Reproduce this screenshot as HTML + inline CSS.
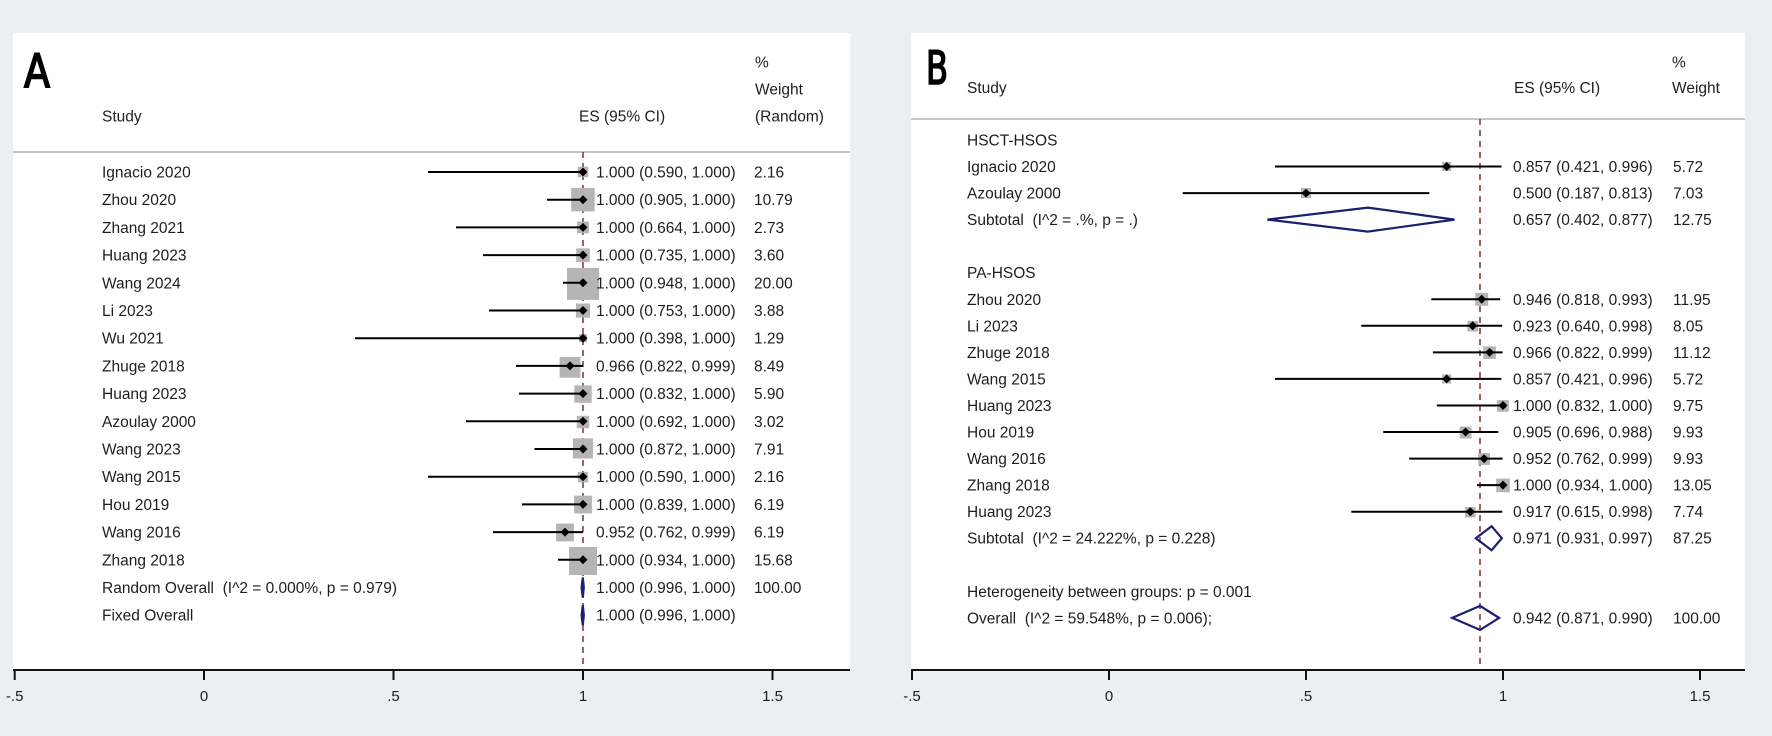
<!DOCTYPE html>
<html>
<head>
<meta charset="utf-8">
<style>
  html,body{margin:0;padding:0;background:#e9eff2;}
  svg{display:block;}
  text{font-family:"Liberation Sans",Arial,sans-serif;font-size:15.5px;fill:#1e1e1e;white-space:pre;}
  .big{font-family:"DejaVu Sans Condensed","Liberation Sans Narrow","Liberation Sans",sans-serif;font-weight:normal;font-size:46px;fill:#000;stroke:#000;stroke-width:1.6px;}
  .ax{font-size:15px;}
</style>
</head>
<body>
<svg width="1772" height="736" viewBox="0 0 1772 736" xmlns="http://www.w3.org/2000/svg">
  <rect x="0" y="0" width="1772" height="736" fill="#e9eff2"/>

  <!-- ================= PANEL A ================= -->
  <rect x="13" y="33" width="837" height="637" fill="#ffffff"/>
  <line x1="13" y1="152" x2="850" y2="152" stroke="#b4b4b4" stroke-width="1.5"/>
  <text class="big" x="24" y="87" textLength="26" lengthAdjust="spacingAndGlyphs">A</text>

  <text x="102" y="121.5">Study</text>
  <text x="579" y="121.5">ES (95% CI)</text>
  <text x="755" y="67.5">%</text>
  <text x="755" y="94.5">Weight</text>
  <text x="755" y="121.5">(Random)</text>

  <!-- dashed reference line -->
  <line x1="583" y1="152" x2="583" y2="670" stroke="#8a2b2b" stroke-width="1.5" stroke-dasharray="6,5"/>

  <!-- squares A -->
  <g fill="#b5b5b5">
    <rect x="577.7" y="166.7" width="10.5" height="10.5"/>
    <rect x="571.2" y="187.9" width="23.5" height="23.5"/>
    <rect x="577.1" y="221.5" width="11.8" height="11.8"/>
    <rect x="576.2" y="248.4" width="13.6" height="13.6"/>
    <rect x="567" y="267.9" width="32" height="32"/>
    <rect x="575.9" y="303.5" width="14.1" height="14.1"/>
    <rect x="578.9" y="334.1" width="8.1" height="8.1"/>
    <rect x="559.6" y="356.9" width="20.8" height="20.8"/>
    <rect x="574.3" y="385.4" width="17.4" height="17.4"/>
    <rect x="576.8" y="415.8" width="12.4" height="12.4"/>
    <rect x="572.9" y="438.4" width="20.1" height="20.1"/>
    <rect x="577.7" y="471.8" width="10.5" height="10.5"/>
    <rect x="574.1" y="495.6" width="17.8" height="17.8"/>
    <rect x="556.1" y="523.6" width="17.8" height="17.8"/>
    <rect x="569" y="547" width="28" height="28"/>
  </g>
  <!-- CI lines A -->
  <g stroke="#000" stroke-width="2">
    <line x1="428" y1="172" x2="583" y2="172"/>
    <line x1="547" y1="199.7" x2="583" y2="199.7"/>
    <line x1="456" y1="227.4" x2="583" y2="227.4"/>
    <line x1="483" y1="255.1" x2="583" y2="255.1"/>
    <line x1="563" y1="282.8" x2="583" y2="282.8"/>
    <line x1="489" y1="310.5" x2="583" y2="310.5"/>
    <line x1="355" y1="338.2" x2="583" y2="338.2"/>
    <line x1="516" y1="365.9" x2="583" y2="365.9"/>
    <line x1="519" y1="393.6" x2="583" y2="393.6"/>
    <line x1="466" y1="421.3" x2="583" y2="421.3"/>
    <line x1="534.5" y1="449" x2="583" y2="449"/>
    <line x1="428" y1="476.7" x2="583" y2="476.7"/>
    <line x1="522" y1="504.4" x2="583" y2="504.4"/>
    <line x1="493" y1="532.1" x2="583" y2="532.1"/>
    <line x1="558" y1="559.8" x2="583" y2="559.8"/>
  </g>
  <!-- diamonds A -->
  <g fill="#000">
    <polygon points="578.5,172 583,167.5 587.5,172 583,176.5"/>
    <polygon points="578.5,199.7 583,195.2 587.5,199.7 583,204.2"/>
    <polygon points="578.5,227.4 583,222.9 587.5,227.4 583,231.9"/>
    <polygon points="578.5,255.1 583,250.6 587.5,255.1 583,259.6"/>
    <polygon points="578.5,282.8 583,278.3 587.5,282.8 583,287.3"/>
    <polygon points="578.5,310.5 583,306 587.5,310.5 583,315"/>
    <polygon points="578.5,338.2 583,333.7 587.5,338.2 583,342.7"/>
    <polygon points="565.5,365.9 570,361.4 574.5,365.9 570,370.4"/>
    <polygon points="578.5,393.6 583,389.1 587.5,393.6 583,398.1"/>
    <polygon points="578.5,421.3 583,416.8 587.5,421.3 583,425.8"/>
    <polygon points="578.5,449 583,444.5 587.5,449 583,453.5"/>
    <polygon points="578.5,476.7 583,472.2 587.5,476.7 583,481.2"/>
    <polygon points="578.5,504.4 583,499.9 587.5,504.4 583,508.9"/>
    <polygon points="560.5,532.1 565,527.6 569.5,532.1 565,536.6"/>
    <polygon points="578.5,559.8 583,555.3 587.5,559.8 583,564.3"/>
  </g>
  <!-- overall diamonds A -->
  <g fill="none" stroke="#1a1f6e" stroke-width="2.2">
    <polygon points="581.6,587.5 582.8,577.5 583.8,587.5 582.8,597.5"/>
    <polygon points="581.6,615.2 582.8,605.2 583.8,615.2 582.8,625.2"/>
  </g>

  <!-- text rows A -->
  <g>
    <text x="102" y="177.5">Ignacio 2020</text>
    <text x="102" y="205.2">Zhou 2020</text>
    <text x="102" y="232.9">Zhang 2021</text>
    <text x="102" y="260.6">Huang 2023</text>
    <text x="102" y="288.3">Wang 2024</text>
    <text x="102" y="316">Li 2023</text>
    <text x="102" y="343.7">Wu 2021</text>
    <text x="102" y="371.4">Zhuge 2018</text>
    <text x="102" y="399.1">Huang 2023</text>
    <text x="102" y="426.8">Azoulay 2000</text>
    <text x="102" y="454.5">Wang 2023</text>
    <text x="102" y="482.2">Wang 2015</text>
    <text x="102" y="509.9">Hou 2019</text>
    <text x="102" y="537.6">Wang 2016</text>
    <text x="102" y="565.3">Zhang 2018</text>
    <text x="102" y="593">Random Overall  (I^2 = 0.000%, p = 0.979)</text>
    <text x="102" y="620.7">Fixed Overall</text>

    <text x="596" y="177.5">1.000 (0.590, 1.000)</text>
    <text x="596" y="205.2">1.000 (0.905, 1.000)</text>
    <text x="596" y="232.9">1.000 (0.664, 1.000)</text>
    <text x="596" y="260.6">1.000 (0.735, 1.000)</text>
    <text x="596" y="288.3">1.000 (0.948, 1.000)</text>
    <text x="596" y="316">1.000 (0.753, 1.000)</text>
    <text x="596" y="343.7">1.000 (0.398, 1.000)</text>
    <text x="596" y="371.4">0.966 (0.822, 0.999)</text>
    <text x="596" y="399.1">1.000 (0.832, 1.000)</text>
    <text x="596" y="426.8">1.000 (0.692, 1.000)</text>
    <text x="596" y="454.5">1.000 (0.872, 1.000)</text>
    <text x="596" y="482.2">1.000 (0.590, 1.000)</text>
    <text x="596" y="509.9">1.000 (0.839, 1.000)</text>
    <text x="596" y="537.6">0.952 (0.762, 0.999)</text>
    <text x="596" y="565.3">1.000 (0.934, 1.000)</text>
    <text x="596" y="593">1.000 (0.996, 1.000)</text>
    <text x="596" y="620.7">1.000 (0.996, 1.000)</text>

    <text x="754" y="177.5">2.16</text>
    <text x="754" y="205.2">10.79</text>
    <text x="754" y="232.9">2.73</text>
    <text x="754" y="260.6">3.60</text>
    <text x="754" y="288.3">20.00</text>
    <text x="754" y="316">3.88</text>
    <text x="754" y="343.7">1.29</text>
    <text x="754" y="371.4">8.49</text>
    <text x="754" y="399.1">5.90</text>
    <text x="754" y="426.8">3.02</text>
    <text x="754" y="454.5">7.91</text>
    <text x="754" y="482.2">2.16</text>
    <text x="754" y="509.9">6.19</text>
    <text x="754" y="537.6">6.19</text>
    <text x="754" y="565.3">15.68</text>
    <text x="754" y="593">100.00</text>
  </g>

  <!-- axis A -->
  <line x1="13" y1="670" x2="850" y2="670" stroke="#111" stroke-width="2"/>
  <g stroke="#111" stroke-width="2">
    <line x1="14.7" y1="670" x2="14.7" y2="680"/>
    <line x1="204" y1="670" x2="204" y2="680"/>
    <line x1="393.5" y1="670" x2="393.5" y2="680"/>
    <line x1="583" y1="670" x2="583" y2="680"/>
    <line x1="772.5" y1="670" x2="772.5" y2="680"/>
  </g>
  <text class="ax" x="14.7" y="701" text-anchor="middle">-.5</text>
  <text class="ax" x="204" y="701" text-anchor="middle">0</text>
  <text class="ax" x="393.5" y="701" text-anchor="middle">.5</text>
  <text class="ax" x="583" y="701" text-anchor="middle">1</text>
  <text class="ax" x="772.5" y="701" text-anchor="middle">1.5</text>

  <!-- ================= PANEL B ================= -->
  <rect x="911" y="33" width="834" height="637" fill="#ffffff"/>
  <line x1="911" y1="119" x2="1745" y2="119" stroke="#b4b4b4" stroke-width="1.5"/>
  <text class="big" x="926" y="84" textLength="22" lengthAdjust="spacingAndGlyphs">B</text>

  <text x="967" y="93">Study</text>
  <text x="1514" y="93">ES (95% CI)</text>
  <text x="1672" y="67.5">%</text>
  <text x="1672" y="93">Weight</text>

  <line x1="1480" y1="119" x2="1480" y2="670" stroke="#8a2b2b" stroke-width="1.5" stroke-dasharray="6,5"/>

  <!-- squares B -->
  <g fill="#b5b5b5">
    <rect x="1442.2" y="162" width="9" height="9"/>
    <rect x="1301" y="188.1" width="10" height="10"/>
    <rect x="1475.2" y="292.8" width="13" height="13"/>
    <rect x="1467.4" y="320.9" width="10.6" height="10.6"/>
    <rect x="1483.3" y="346.4" width="12.6" height="12.6"/>
    <rect x="1442.2" y="374.5" width="9" height="9"/>
    <rect x="1497.1" y="400.1" width="11.7" height="11.7"/>
    <rect x="1459.7" y="426.6" width="11.8" height="11.8"/>
    <rect x="1478.2" y="453.1" width="11.8" height="11.8"/>
    <rect x="1496.2" y="478.6" width="13.6" height="13.6"/>
    <rect x="1465" y="507" width="10.5" height="10.5"/>
  </g>
  <!-- CI lines B -->
  <g stroke="#000" stroke-width="2">
    <line x1="1275" y1="166.5" x2="1501.5" y2="166.5"/>
    <line x1="1182.7" y1="193.1" x2="1429.3" y2="193.1"/>
    <line x1="1431.3" y1="299.3" x2="1500.2" y2="299.3"/>
    <line x1="1361.2" y1="325.8" x2="1502.2" y2="325.8"/>
    <line x1="1432.9" y1="352.4" x2="1502.6" y2="352.4"/>
    <line x1="1275" y1="378.9" x2="1501.4" y2="378.9"/>
    <line x1="1436.8" y1="405.5" x2="1503" y2="405.5"/>
    <line x1="1383.2" y1="432" x2="1498.3" y2="432"/>
    <line x1="1409.2" y1="458.6" x2="1502.6" y2="458.6"/>
    <line x1="1477" y1="485.1" x2="1503" y2="485.1"/>
    <line x1="1351.3" y1="511.7" x2="1502.2" y2="511.7"/>
  </g>
  <!-- diamonds B -->
  <g fill="#000">
    <polygon points="1442.2,166.5 1446.7,162 1451.2,166.5 1446.7,171"/>
    <polygon points="1301.5,193.1 1306,188.6 1310.5,193.1 1306,197.6"/>
    <polygon points="1477.2,299.3 1481.7,294.8 1486.2,299.3 1481.7,303.8"/>
    <polygon points="1468.2,325.8 1472.7,321.3 1477.2,325.8 1472.7,330.3"/>
    <polygon points="1485.1,352.4 1489.6,347.9 1494.1,352.4 1489.6,356.9"/>
    <polygon points="1442.2,378.9 1446.7,374.4 1451.2,378.9 1446.7,383.4"/>
    <polygon points="1498.5,405.5 1503,401 1507.5,405.5 1503,410"/>
    <polygon points="1461.1,432 1465.6,427.5 1470.1,432 1465.6,436.5"/>
    <polygon points="1479.6,458.6 1484.1,454.1 1488.6,458.6 1484.1,463.1"/>
    <polygon points="1498.5,485.1 1503,480.6 1507.5,485.1 1503,489.6"/>
    <polygon points="1465.8,511.7 1470.3,507.2 1474.8,511.7 1470.3,516.2"/>
  </g>
  <!-- subtotal / overall diamonds B -->
  <g fill="none" stroke="#1a1f6e" stroke-width="2.2">
    <polygon points="1267.4,219.6 1367.9,207.6 1454.5,219.6 1367.9,231.6"/>
    <polygon points="1475.8,538.2 1491.6,526.2 1501.8,538.2 1491.6,550.2"/>
    <polygon points="1452.2,617.9 1480.1,605.9 1499.1,617.9 1480.1,629.9"/>
  </g>

  <!-- text rows B -->
  <g>
    <text x="967" y="145.5">HSCT-HSOS</text>
    <text x="967" y="172">Ignacio 2020</text>
    <text x="967" y="198.6">Azoulay 2000</text>
    <text x="967" y="225.1">Subtotal  (I^2 = .%, p = .)</text>
    <text x="967" y="278.2">PA-HSOS</text>
    <text x="967" y="304.8">Zhou 2020</text>
    <text x="967" y="331.3">Li 2023</text>
    <text x="967" y="357.9">Zhuge 2018</text>
    <text x="967" y="384.4">Wang 2015</text>
    <text x="967" y="411">Huang 2023</text>
    <text x="967" y="437.5">Hou 2019</text>
    <text x="967" y="464.1">Wang 2016</text>
    <text x="967" y="490.6">Zhang 2018</text>
    <text x="967" y="517.2">Huang 2023</text>
    <text x="967" y="543.7">Subtotal  (I^2 = 24.222%, p = 0.228)</text>
    <text x="967" y="596.8">Heterogeneity between groups: p = 0.001</text>
    <text x="967" y="623.4">Overall  (I^2 = 59.548%, p = 0.006);</text>

    <text x="1513" y="172">0.857 (0.421, 0.996)</text>
    <text x="1513" y="198.6">0.500 (0.187, 0.813)</text>
    <text x="1513" y="225.1">0.657 (0.402, 0.877)</text>
    <text x="1513" y="304.8">0.946 (0.818, 0.993)</text>
    <text x="1513" y="331.3">0.923 (0.640, 0.998)</text>
    <text x="1513" y="357.9">0.966 (0.822, 0.999)</text>
    <text x="1513" y="384.4">0.857 (0.421, 0.996)</text>
    <text x="1513" y="411">1.000 (0.832, 1.000)</text>
    <text x="1513" y="437.5">0.905 (0.696, 0.988)</text>
    <text x="1513" y="464.1">0.952 (0.762, 0.999)</text>
    <text x="1513" y="490.6">1.000 (0.934, 1.000)</text>
    <text x="1513" y="517.2">0.917 (0.615, 0.998)</text>
    <text x="1513" y="543.7">0.971 (0.931, 0.997)</text>
    <text x="1513" y="623.4">0.942 (0.871, 0.990)</text>

    <text x="1673" y="172">5.72</text>
    <text x="1673" y="198.6">7.03</text>
    <text x="1673" y="225.1">12.75</text>
    <text x="1673" y="304.8">11.95</text>
    <text x="1673" y="331.3">8.05</text>
    <text x="1673" y="357.9">11.12</text>
    <text x="1673" y="384.4">5.72</text>
    <text x="1673" y="411">9.75</text>
    <text x="1673" y="437.5">9.93</text>
    <text x="1673" y="464.1">9.93</text>
    <text x="1673" y="490.6">13.05</text>
    <text x="1673" y="517.2">7.74</text>
    <text x="1673" y="543.7">87.25</text>
    <text x="1673" y="623.4">100.00</text>
  </g>

  <!-- axis B -->
  <line x1="911" y1="670" x2="1745" y2="670" stroke="#111" stroke-width="2"/>
  <g stroke="#111" stroke-width="2">
    <line x1="912" y1="670" x2="912" y2="680"/>
    <line x1="1109" y1="670" x2="1109" y2="680"/>
    <line x1="1306" y1="670" x2="1306" y2="680"/>
    <line x1="1503" y1="670" x2="1503" y2="680"/>
    <line x1="1700" y1="670" x2="1700" y2="680"/>
  </g>
  <text class="ax" x="912" y="701" text-anchor="middle">-.5</text>
  <text class="ax" x="1109" y="701" text-anchor="middle">0</text>
  <text class="ax" x="1306" y="701" text-anchor="middle">.5</text>
  <text class="ax" x="1503" y="701" text-anchor="middle">1</text>
  <text class="ax" x="1700" y="701" text-anchor="middle">1.5</text>
</svg>
</body>
</html>
